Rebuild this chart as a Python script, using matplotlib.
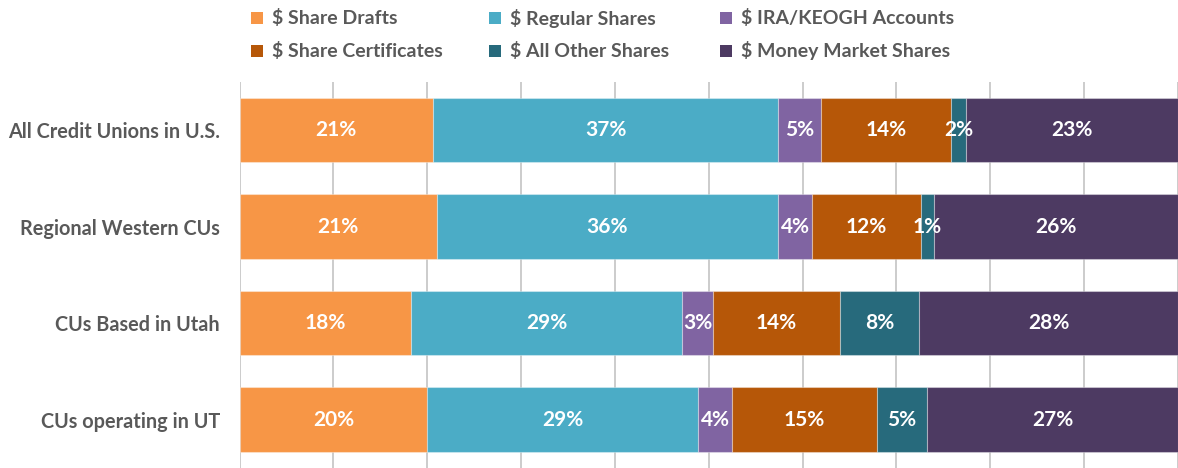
import matplotlib
matplotlib.use("Agg")
import matplotlib.pyplot as plt
from matplotlib.patches import Rectangle

categories = ["All Credit Unions in U.S.", "Regional Western CUs",
              "CUs Based in Utah", "CUs operating in UT"]
series_names = ["$ Share Drafts", "$ Regular Shares", "$ IRA/KEOGH Accounts",
                "$ Share Certificates", "$ All Other Shares", "$ Money Market Shares"]
share_drafts = [20.6, 21.0, 18.3, 20.0]
regular_shares = [36.8, 36.4, 28.9, 28.9]
ira_keogh = [4.6, 3.6, 3.2, 3.6]
share_certificates = [13.8, 11.6, 13.6, 15.4]
all_other_shares = [1.6, 1.4, 8.4, 5.4]
money_market = [22.6, 26.0, 27.6, 26.7]

series = [share_drafts, regular_shares, ira_keogh,
          share_certificates, all_other_shares, money_market]
colors = ["#F79646", "#4BACC6", "#8064A2", "#B65708", "#276A7C", "#4D3A62"]

plt.rcParams['font.family'] = ['Lato', 'DejaVu Sans']
W, H = 1178, 468
fig = plt.figure(figsize=(W / 100, H / 100), dpi=100)
ax_left = 239.5 / W
ax_top = 81.6
ax = fig.add_axes([ax_left, 0, 1 - ax_left, (H - ax_top) / H])

y = list(range(len(categories)))
left = [0.0] * len(categories)
for vals, col in zip(series, colors):
    ax.barh(y, vals, left=left, height=0.67, color=col,
            edgecolor=(1, 1, 1, 0.35), linewidth=0.8, zorder=3)
    for yi, v, l in zip(y, vals, left):
        ax.text(l + v / 2, yi, f"{round(v)}%", ha="center", va="center",
                color="white", fontsize=15, fontweight="bold", zorder=4)
    left = [a + b for a, b in zip(left, vals)]

ax.set_xlim(0, 100)
ax.set_ylim(3.5, -0.5)
ax.set_xticks(range(0, 101, 10))
ax.xaxis.grid(True, color="#c4c4c4", linewidth=1.2, zorder=0)
ax.set_axisbelow(True)
ax.tick_params(axis="x", length=0, labelbottom=False)
ax.set_yticks(y)
ax.set_yticklabels(categories, fontsize=14.3, fontweight="bold", color="#595959")
ax.tick_params(axis="y", length=0, pad=14)
for s in ax.spines.values():
    s.set_visible(False)

# legend (manual layout)
col_x = [251, 489, 720]
row_y = [18, 51]
sq = 12
for i, (name, col) in enumerate(zip(series_names, colors)):
    r, c = divmod(i, 3)
    x0, y0 = col_x[c], row_y[r]
    fig.patches.append(Rectangle((x0 / W, 1 - (y0 + sq / 2) / H), sq / W, sq / H,
                                 transform=fig.transFigure, facecolor=col,
                                 edgecolor="none"))
    fig.text((x0 + sq + 9) / W, 1 - y0 / H, name, ha="left", va="center",
             fontsize=14, fontweight="bold", color="#595959")

fig.savefig("out.png", dpi=100)
